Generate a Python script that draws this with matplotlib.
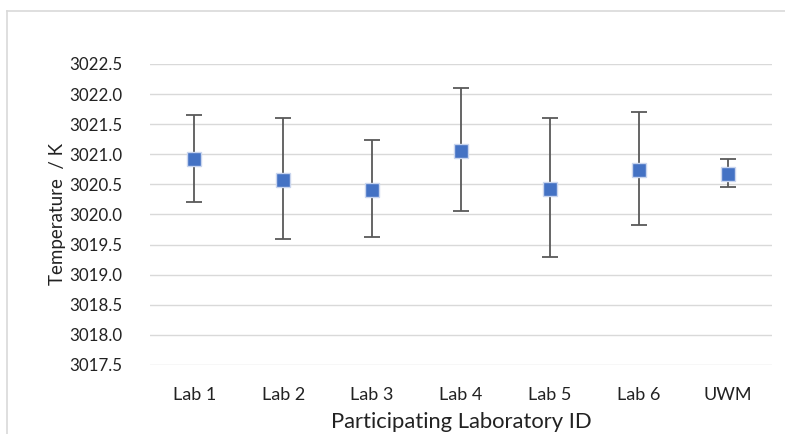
import matplotlib
matplotlib.use("Agg")
import matplotlib.pyplot as plt
from matplotlib.lines import Line2D

labs = ["Lab 1", "Lab 2", "Lab 3", "Lab 4", "Lab 5", "Lab 6", "UWM"]
temps = [3020.92, 3020.58, 3020.41, 3021.05, 3020.43, 3020.74, 3020.68]
upper = [3021.66, 3021.61, 3021.23, 3022.10, 3021.61, 3021.70, 3020.93]
lower = [3020.21, 3019.60, 3019.62, 3020.05, 3019.29, 3019.82, 3020.46]
yticks = [3017.5, 3018.0, 3018.5, 3019.0, 3019.5, 3020.0, 3020.5, 3021.0, 3021.5, 3022.0, 3022.5]

plt.rcParams['font.family'] = ['Lato', 'DejaVu Sans']

W, H = 785, 434
fig = plt.figure(figsize=(W / 100, H / 100), dpi=100)
ax = fig.add_axes([150 / W, 1 - 365 / H, 622 / W, 301 / H])

x = list(range(len(labs)))
yerr = [[t - l for t, l in zip(temps, lower)], [u - t for t, u in zip(temps, upper)]]
ax.errorbar(x, temps, yerr=yerr, fmt='none', ecolor='#595959', elinewidth=1.3,
            capsize=5.5, capthick=1.3, zorder=3)
ax.plot(x, temps, linestyle='none', marker='s', markersize=9.5,
        markerfacecolor='#4472C4', markeredgecolor='#C9D5EE', markeredgewidth=1.0, zorder=4)

ax.set_xlim(-0.5, len(labs) - 0.5)
ax.set_ylim(yticks[0], yticks[-1])
ax.set_yticks(yticks)
ax.set_yticklabels([f"{v:.1f}" for v in yticks])
ax.set_xticks(x)
ax.set_xticklabels(labs)
ax.yaxis.grid(True, color='#D9D9D9', linewidth=1.0)
ax.set_axisbelow(True)
for s in ax.spines.values():
    s.set_visible(False)
ax.tick_params(axis='x', length=0, labelsize=13, colors='#222222', pad=16)
ax.tick_params(axis='y', length=0, labelsize=12.2, colors='#222222', pad=20)
ax.set_ylabel("Temperature  / K", fontsize=13.5, color='#222222', labelpad=2)
ax.set_xlabel("Participating Laboratory ID", fontsize=15.8, color='#222222', labelpad=6)

# chart area border
fig.add_artist(Line2D([7 / W, 1.01], [1 - 11 / H, 1 - 11 / H], color='#D9D9D9', linewidth=1.2))
fig.add_artist(Line2D([7 / W, 7 / W], [-0.01, 1 - 11 / H], color='#D9D9D9', linewidth=1.2))

fig.savefig("out.png", dpi=100)
